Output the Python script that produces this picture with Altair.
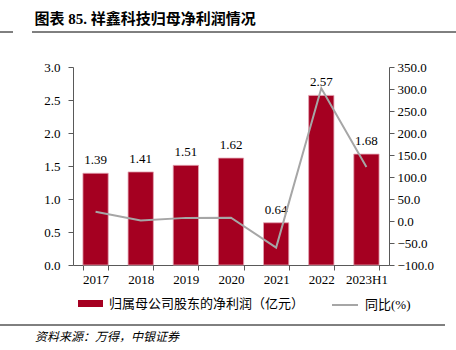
import altair as alt
import pandas as pd

years = ["2017", "2018", "2019", "2020", "2021", "2022", "2023H1"]
profit = [1.39, 1.41, 1.51, 1.62, 0.64, 2.57, 1.68]
yoy = [21.0, 1.4, 7.1, 7.3, -60.5, 301.6, 123.0]
bar_name = "归属母公司股东的净利润（亿元）"
line_name = "同比(%)"
left_ticks = [0.0, 0.5, 1.0, 1.5, 2.0, 2.5, 3.0]
right_ticks = [-100, -50, 0, 50, 100, 150, 200, 250, 300, 350]

df = pd.DataFrame({"year": years, "profit": profit, "yoy": yoy,
                   "s1": bar_name, "s2": line_name})

FONT = "Liberation Serif, 'Noto Sans CJK SC'"
RED = "#A50021"
GRAY = "#A6A6A6"
AX = "#595959"

x = alt.X("year:N", sort=years, title=None,
          scale=alt.Scale(paddingInner=0.44, paddingOuter=0.22),
          axis=alt.Axis(labelAngle=0, labelFont=FONT, labelFontSize=13, labelColor="black",
                        domainColor=AX, tickColor=AX, tickBand="extent", tickSize=5,
                        labelPadding=3))

left_axis = alt.Axis(values=left_ticks, format=".1f", labelFont=FONT, labelFontSize=13,
                     labelColor="black", domainColor=AX, tickColor=AX, tickSize=5,
                     grid=False, labelPadding=8, labelOverlap=False, labelFlush=False)

bars = alt.Chart(df).mark_bar(color=RED, stroke="#E3A3B2", strokeWidth=0.8).encode(
    x=x,
    y=alt.Y("profit:Q", title=None,
            scale=alt.Scale(domain=[0, 3.0], nice=False), axis=left_axis),
    fill=alt.Fill("s1:N", scale=alt.Scale(domain=[bar_name], range=[RED]),
                  legend=alt.Legend(title=None, orient="none", legendX=5, legendY=224,
                                    symbolType="M-1,-0.28H1V0.28H-1Z", symbolSize=625,
                                    symbolStrokeWidth=0, labelFont=FONT, labelFontSize=13,
                                    labelColor="black", padding=0, labelOffset=6,
                                    labelLimit=0)),
)

labels = alt.Chart(df).mark_text(font=FONT, fontSize=13, dy=-6, baseline="bottom",
                                 color="black").encode(
    x=alt.X("year:N", sort=years),
    y=alt.Y("profit:Q", title=None, scale=alt.Scale(domain=[0, 3.0], nice=False),
            axis=left_axis),
    text=alt.Text("profit:Q", format=".2f"),
)

left = alt.layer(bars, labels)

line = alt.Chart(df).mark_line(strokeWidth=2).encode(
    x=alt.X("year:N", sort=years),
    y=alt.Y("yoy:Q", title=None,
            scale=alt.Scale(domain=[-100, 350], nice=False),
            axis=alt.Axis(orient="right", values=right_ticks, format=".1f", labelFont=FONT,
                          labelFontSize=13, labelColor="black", domainColor=AX,
                          tickColor=AX, tickSize=5, grid=False, labelPadding=3,
                          labelOverlap=False, labelFlush=False)),
    stroke=alt.Stroke("s2:N", scale=alt.Scale(domain=[line_name], range=[GRAY]),
                      legend=alt.Legend(title=None, orient="none", legendX=258, legendY=224,
                                        symbolType="stroke", symbolSize=676,
                                        symbolStrokeWidth=2, labelFont=FONT, labelFontSize=13,
                                        labelColor="black", padding=0, labelOffset=6,
                                        labelLimit=0)),
)

rule_top = alt.Chart(df).mark_rule(color="#7F7F7F", strokeWidth=1).encode(
    x=alt.value(-41), x2=alt.value(383), y=alt.value(-35))
rule_top2 = alt.Chart(df).mark_rule(color="#7F7F7F", strokeWidth=1).encode(
    x=alt.value(-73), x2=alt.value(-60), y=alt.value(-35))
rule_bot = alt.Chart(df).mark_rule(color="#7F7F7F", strokeWidth=1).encode(
    x=alt.value(-73), x2=alt.value(372), y=alt.value(258))
source = alt.Chart(pd.DataFrame({"t": ["资料来源：万得，中银证券"]})).mark_text(
    font=FONT, fontSize=12, fontStyle="italic", align="left", baseline="middle",
    color="black").encode(x=alt.value(-38), y=alt.value(270), text="t:N")

chart = alt.layer(left, line, rule_top, rule_top2, rule_bot, source).resolve_scale(
    y="independent"
).properties(
    width=316, height=198,
    title=alt.TitleParams("图表 85. 祥鑫科技归母净利润情况", anchor="start", font=FONT,
                          fontSize=15, fontWeight="bold", color="black", dx=35, offset=5),
    autosize=alt.AutoSizeParams(type="none"),
    padding={"left": 73, "top": 67, "right": 67, "bottom": 85},
).configure_view(stroke=None)

chart.save("out.html", embed_options={"renderer": "svg", "actions": False})
